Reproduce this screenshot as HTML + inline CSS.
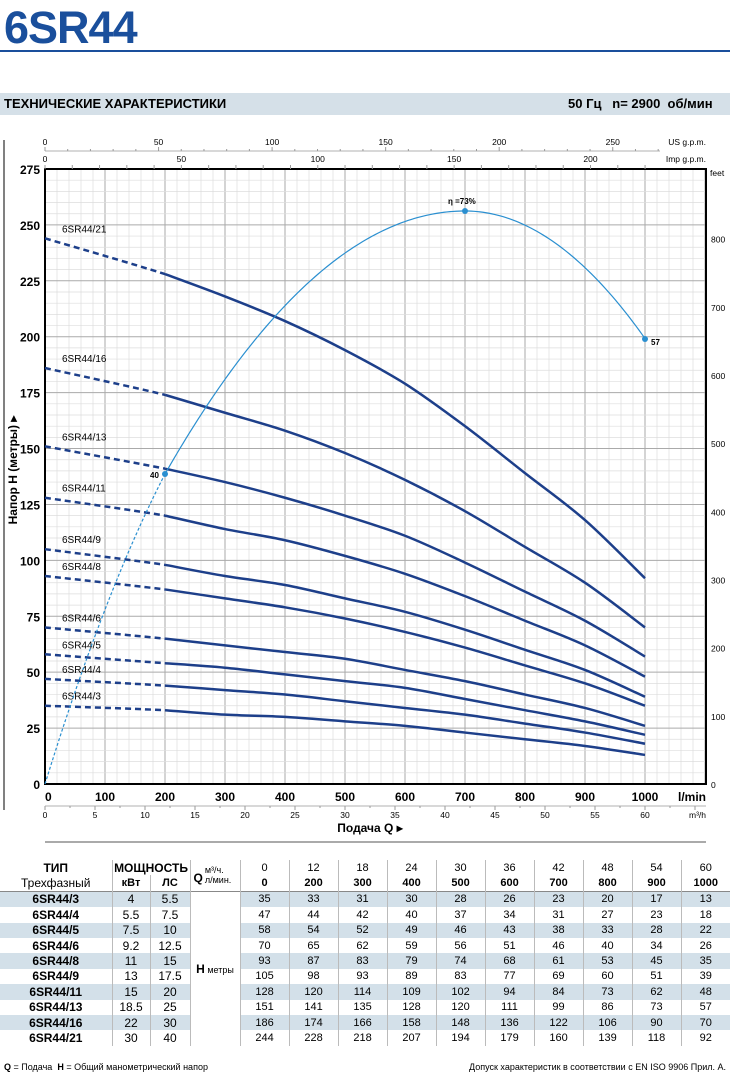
<!DOCTYPE html>
<html><head><meta charset="utf-8"><style>
body{margin:0;width:730px;height:1079px;background:#fff;font-family:"Liberation Sans",sans-serif;overflow:hidden;position:relative}
.t{position:absolute;white-space:nowrap}
table{position:absolute;left:0;top:860px;width:730px;border-collapse:collapse;table-layout:fixed;font-size:11px;font-family:"Liberation Sans",sans-serif}
td{text-align:center;height:15.4px;padding:0;border-right:1px solid #bbb;overflow:hidden}
tr.s td.d{background:#d3e0e9}
</style></head><body>
<div class="t" style="left:4px;top:2px;font-size:45px;font-weight:bold;color:#1a4f9c;letter-spacing:-1px">6SR44</div>
<div style="position:absolute;left:0;top:50px;width:730px;height:2px;background:#1a4f9c"></div>
<div style="position:absolute;left:0;top:93px;width:730px;height:22px;background:#d5e0e8"></div>
<div class="t" style="left:4px;top:96px;font-size:13px;font-weight:bold">ТЕХНИЧЕСКИЕ ХАРАКТЕРИСТИКИ</div>
<div class="t" style="left:568px;top:96px;font-size:13px;font-weight:bold">50 Гц &nbsp;&nbsp;n= 2900 &nbsp;об/мин</div>
<svg id="s" width="730" height="860" style="position:absolute;left:0;top:0" font-family="Liberation Sans, sans-serif"></svg>
<table>
<colgroup><col style="width:112px"><col style="width:38px"><col style="width:40px"><col style="width:50px"><col style="width:49px"><col style="width:49px"><col style="width:49px"><col style="width:49px"><col style="width:49px"><col style="width:49px"><col style="width:49px"><col style="width:49px"><col style="width:49px"><col style="width:49px"></colgroup>
<tr style="font-weight:bold"><td style="font-size:12px">ТИП</td><td colspan="2" style="font-size:12px">МОЩНОСТЬ</td><td rowspan="2" style="font-size:9px;font-weight:normal;text-align:left"><b style="font-size:12px;float:left;margin:6px 2px 0 3px">Q</b>м³/ч.<br>л/мин.</td>
<td style="font-weight:normal">0</td><td style="font-weight:normal">12</td><td style="font-weight:normal">18</td><td style="font-weight:normal">24</td><td style="font-weight:normal">30</td><td style="font-weight:normal">36</td><td style="font-weight:normal">42</td><td style="font-weight:normal">48</td><td style="font-weight:normal">54</td><td style="font-weight:normal;border-right:0">60</td></tr>
<tr style="font-weight:bold;border-bottom:1px solid #888"><td style="font-weight:normal;font-size:12px">Трехфазный</td><td>кВт</td><td>ЛС</td><td>0</td><td>200</td><td>300</td><td>400</td><td>500</td><td>600</td><td>700</td><td>800</td><td>900</td><td style="border-right:0">1000</td></tr>
<tbody id="tb"></tbody>
</table>
<div class="t" style="left:4px;top:1062px;font-size:9px"><b>Q</b> = Подача &nbsp;<b>H</b> = Общий манометрический напор</div>
<div class="t" style="right:4px;top:1062px;font-size:9px">Допуск характеристик в соответствии с EN ISO 9906 Прил. А.</div>
<script>
var D=[["6SR44/3","4","5.5",[35,33,31,30,28,26,23,20,17,13]],["6SR44/4","5.5","7.5",[47,44,42,40,37,34,31,27,23,18]],["6SR44/5","7.5","10",[58,54,52,49,46,43,38,33,28,22]],["6SR44/6","9.2","12.5",[70,65,62,59,56,51,46,40,34,26]],["6SR44/8","11","15",[93,87,83,79,74,68,61,53,45,35]],["6SR44/9","13","17.5",[105,98,93,89,83,77,69,60,51,39]],["6SR44/11","15","20",[128,120,114,109,102,94,84,73,62,48]],["6SR44/13","18.5","25",[151,141,135,128,120,111,99,86,73,57]],["6SR44/16","22","30",[186,174,166,158,148,136,122,106,90,70]],["6SR44/21","30","40",[244,228,218,207,194,179,160,139,118,92]]];
var tb="";D.forEach(function(r,i){tb+='<tr class="'+(i%2==0?'s':'')+'"><td class="d" style="font-weight:bold;font-size:12px">'+r[0]+'</td><td class="d" style="font-size:12px">'+r[1]+'</td><td class="d" style="font-size:12px">'+r[2]+'</td>'+(i==0?'<td rowspan="10" style="font-size:9px"><b style="font-size:12px">H</b> метры</td>':'');r[3].forEach(function(v,j){tb+='<td class="d"'+(j==9?' style="border-right:0"':'')+'>'+v+'</td>'});tb+='</tr>'});
document.getElementById("tb").innerHTML=tb;
var X=function(q){return 45+q*0.6},Y=function(h){return 784-h*2.2364};
var s="";
for(var q=0;q<=1100;q+=20){s+='<line x1="'+X(q)+'" y1="169" x2="'+X(q)+'" y2="784" stroke="'+(q%100==0?'#aaa':'#ddd')+'" stroke-width="'+(q%100==0?1:0.7)+'"/>'}
for(var h=0;h<=275;h+=5){s+='<line x1="45" y1="'+Y(h)+'" x2="706" y2="'+Y(h)+'" stroke="'+(h%25==0?'#aaa':'#ddd')+'" stroke-width="'+(h%25==0?1:0.7)+'"/>'}
s+='<rect x="45" y="169" width="661" height="615" fill="none" stroke="#000" stroke-width="2"/>';
s+='<line x1="4" y1="140" x2="4" y2="810" stroke="#000"/>';
for(var h=0;h<=275;h+=25)s+='<text x="40" y="'+(Y(h)+5)+'" font-size="12" font-weight="bold" text-anchor="end">'+h+'</text>';
for(var f=0;f<=800;f+=100)s+='<text x="711" y="'+(Y(f*0.3048)+4)+'" font-size="8.5">'+f+'</text>';
s+='<text x="710" y="176" font-size="8.5">feet</text>';
for(var q=0;q<=1000;q+=100)s+='<text x="'+X(q)+'" y="801" font-size="12" font-weight="bold" text-anchor="'+(q==0?'start':'middle')+'">'+q+'</text>';
s+='<text x="706" y="801" font-size="12" font-weight="bold" text-anchor="end">l/min</text>';
s+='<line x1="45" y1="806" x2="706" y2="806" stroke="#999" stroke-width="0.7"/>';
for(var m=0;m<=65;m+=2.5){var x=X(m*1000/60);s+='<line x1="'+x+'" y1="806" x2="'+x+'" y2="'+(m%5==0?810:808)+'" stroke="#999"/>';if(m%5==0&&m<=60)s+='<text x="'+x+'" y="818" font-size="8.5" text-anchor="middle">'+m+'</text>'}
s+='<text x="706" y="818" font-size="8.5" text-anchor="end">m³/h</text>';
s+='<text x="370" y="832" font-size="12" font-weight="bold" text-anchor="middle">Подача Q ▸</text>';
s+='<line x1="45" y1="842" x2="706" y2="842" stroke="#555"/>';
s+='<line x1="45" y1="151" x2="660" y2="151" stroke="#999" stroke-width="0.7"/>';
for(var g=0;g<=280;g+=10){var x=X(g*3.785);if(x>660)break;s+='<line x1="'+x+'" y1="151" x2="'+x+'" y2="'+(g%50==0?147:149)+'" stroke="#999"/>';if(g%50==0)s+='<text x="'+x+'" y="145" font-size="8.5" text-anchor="middle">'+g+'</text>'}
s+='<text x="706" y="145" font-size="8.5" text-anchor="end">US g.p.m.</text>';
for(var g=0;g<=200;g+=50)s+='<text x="'+X(g*4.546)+'" y="162" font-size="8.5" text-anchor="middle">'+g+'</text>';
for(var g=0;g<=240;g+=10){var x=X(g*4.546);if(x>660)break;s+='<line x1="'+x+'" y1="169" x2="'+x+'" y2="165" stroke="#999"/>'}
s+='<text x="706" y="162" font-size="8.5" text-anchor="end">Imp g.p.m.</text>';
s+='<text transform="translate(17,470) rotate(-90)" font-size="12" font-weight="bold" text-anchor="middle">Напор H (метры) ▸</text>';
var Qs=[0,200,300,400,500,600,700,800,900,1000];
function path(pts){var d="M"+pts[0][0]+","+pts[0][1];for(var i=0;i<pts.length-1;i++){var p0=pts[Math.max(i-1,0)],p1=pts[i],p2=pts[i+1],p3=pts[Math.min(i+2,pts.length-1)];d+=" C"+(p1[0]+(p2[0]-p0[0])/6)+","+(p1[1]+(p2[1]-p0[1])/6)+" "+(p2[0]-(p3[0]-p1[0])/6)+","+(p2[1]-(p3[1]-p1[1])/6)+" "+p2[0]+","+p2[1]}return d}
D.forEach(function(r){var p=Qs.map(function(q,i){return[X(q),Y(r[3][i])]});
s+='<path d="'+path(p.slice(0,3))+'" fill="none" stroke="#1d3f8a" stroke-width="2.5" stroke-dasharray="6,4" clip-path="url(#c1)"/>';
s+='<path d="'+path(p.slice(1))+'" fill="none" stroke="#1d3f8a" stroke-width="2.5"/>';
s+='<text x="62" y="'+(Y(r[3][0])-6)+'" font-size="10" fill="#000">'+r[0]+'</text>'});
s+='<defs><clipPath id="c1"><rect x="40" y="0" width="125" height="800"/></clipPath></defs>';
function E(q){if(q<=700)return 73-33*Math.pow((q-700)/500,2);return 73-16*Math.pow((q-700)/300,2)}
function EY(e){return 474-(e-40)*7.97}
var d1="",d2="";for(var q=0;q<=200;q+=5){var t=q/200;var y=784+(474-784)*(1.25*t-0.25*t*t);d1+=(q?"L":"M")+X(q)+","+y}
for(var q=200;q<=1000;q+=5){d2+=(q>200?"L":"M")+X(q)+","+EY(E(q))}
s+='<path d="'+d1+'" fill="none" stroke="#2a8fd0" stroke-width="1.2" stroke-dasharray="3,2"/><path d="'+d2+'" fill="none" stroke="#2a8fd0" stroke-width="1.2"/>';
s+='<circle cx="165" cy="474" r="3" fill="#2a8fd0"/><circle cx="465" cy="211" r="3" fill="#2a8fd0"/><circle cx="645" cy="339" r="3" fill="#2a8fd0"/>';
s+='<text x="150" y="478" font-size="8" font-weight="bold">40</text><text x="651" y="345" font-size="8" font-weight="bold">57</text><text x="448" y="204" font-size="8" font-weight="bold">η =73%</text>';
document.getElementById("s").innerHTML=s;
</script>
</body></html>
